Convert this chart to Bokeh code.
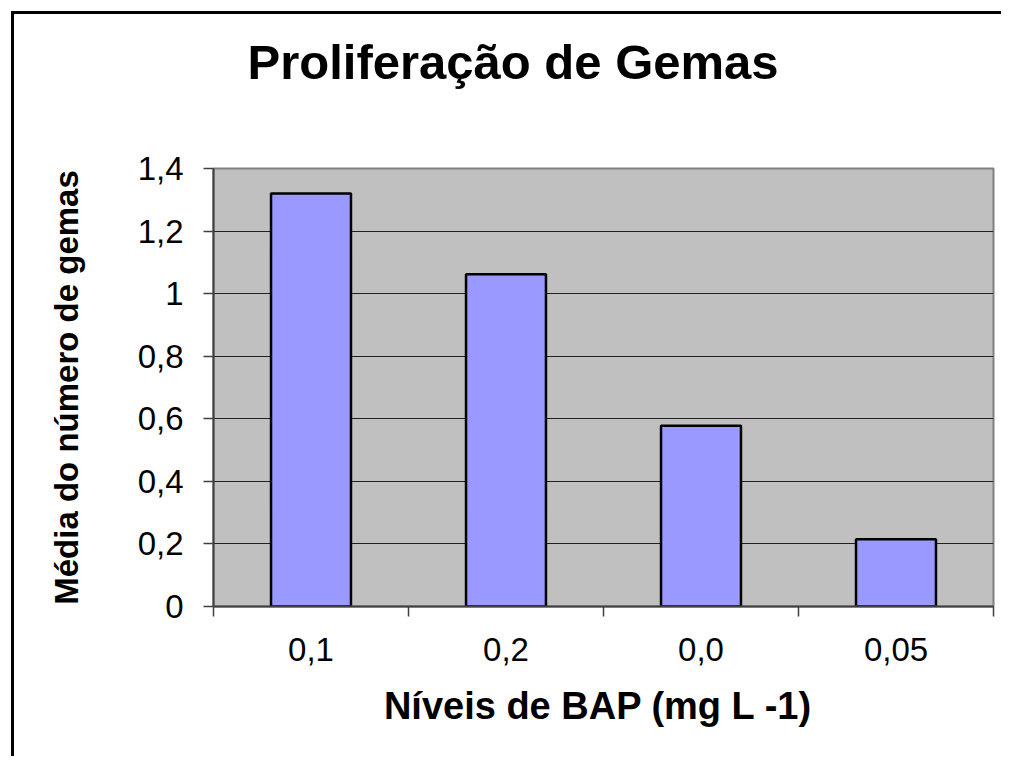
from bokeh.plotting import figure
from bokeh.models import Range1d, FixedTicker, CustomJSTickFormatter, ColumnDataSource, Title
from bokeh.embed import file_html
from bokeh.resources import INLINE

categories = ["0,1", "0,2", "0,0", "0,05"]
values = [1.32, 1.062, 0.578, 0.215]
y_ticks = [0, 0.2, 0.4, 0.6, 0.8, 1.0, 1.2, 1.4]
title_text = "Proliferação de Gemas"
x_label = "Níveis de  BAP (mg L -1)"
y_label = "Média do número de gemas"

FONT = "Liberation Sans"

xs = [i + 0.5 for i in range(len(categories))]
src = ColumnDataSource(dict(x=xs, top=values, cat=categories))

p = figure(width=990, height=745, output_backend="svg", toolbar_location=None,
           x_range=Range1d(0, len(categories)), y_range=Range1d(0, y_ticks[-1]),
           min_border_left=199, min_border_top=154, min_border_right=11, min_border_bottom=153)
p.margin = (11, 0, 0, 11)
p.styles = {"border-top": "3px solid black", "border-left": "3px solid black"}

p.background_fill_color = "#C0C0C0"
p.border_fill_color = "white"
p.outline_line_color = "#808080"
p.outline_line_width = 2

p.vbar(x="x", top="top", bottom=0, width=0.41, source=src,
       fill_color="#9999FF", line_color="black", line_width=2.5)

# built-in title slot unused
p.title.text = ""
p.title.standoff = 0

# blank spacer next to the plot area, then the chart title above it
spacer = Title(text=" ", text_font_size="2px", standoff=66)
p.add_layout(spacer, "above")
main_title = Title(text=title_text, text_font=FONT, text_font_size="49px",
                   text_font_style="bold", text_color="black",
                   align="left", offset=34, standoff=20)
p.add_layout(main_title, "above")

# y axis
ya = p.yaxis[0]
ya.ticker = FixedTicker(ticks=y_ticks)
ya.formatter = CustomJSTickFormatter(code="return (Math.round(tick*10)/10).toString().replace('.', ',');")
ya.major_label_text_font = FONT
ya.major_label_text_font_size = "33px"
ya.major_label_text_color = "black"
ya.major_label_standoff = 20
ya.major_tick_out = 10
ya.major_tick_in = 0
ya.minor_tick_out = 0
ya.minor_tick_in = 0
ya.axis_line_color = "#404040"
ya.axis_line_width = 2
ya.major_tick_line_color = "#404040"
ya.major_tick_line_width = 1.5
ya.axis_label = y_label
ya.axis_label_text_font = FONT
ya.axis_label_text_font_size = "33px"
ya.axis_label_text_font_style = "bold"
ya.axis_label_text_color = "black"
ya.axis_label_standoff = 50

# x axis
xa = p.xaxis[0]
xa.ticker = FixedTicker(ticks=xs, minor_ticks=list(range(len(categories) + 1)))
xa.formatter = CustomJSTickFormatter(args=dict(labels=categories),
                                     code="return labels[Math.floor(tick)];")
xa.major_label_text_font = FONT
xa.major_label_text_font_size = "33px"
xa.major_label_text_color = "black"
xa.major_label_standoff = 21
xa.major_tick_out = 0
xa.major_tick_in = 0
xa.minor_tick_out = 10
xa.minor_tick_in = 0
xa.minor_tick_line_color = "#404040"
xa.minor_tick_line_width = 1.5
xa.axis_line_color = "#404040"
xa.axis_line_width = 2
xa.axis_label = x_label
xa.axis_label_text_font = FONT
xa.axis_label_text_font_size = "38px"
xa.axis_label_text_font_style = "bold"
xa.axis_label_text_color = "black"
xa.axis_label_standoff = 21

p.xgrid.visible = False
p.ygrid.ticker = FixedTicker(ticks=y_ticks[1:-1])
p.ygrid.grid_line_color = "#202020"
p.ygrid.grid_line_width = 1

open("out.html", "w").write(file_html(p, INLINE))
